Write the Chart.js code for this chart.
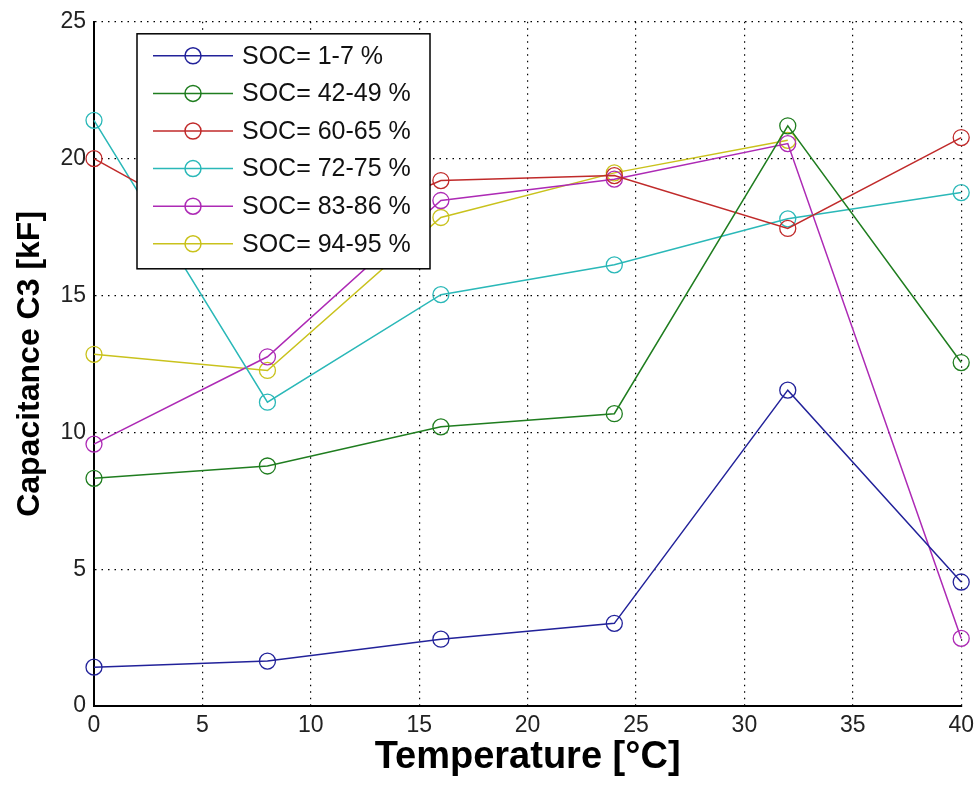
<!DOCTYPE html>
<html>
<head>
<meta charset="utf-8">
<script src="https://cdn.jsdelivr.net/npm/chart.js@4.4.0/dist/chart.umd.min.js"></script>
<style>
  body { margin: 0; background: #fff; }
  #wrap { width: 980px; height: 792px; position: relative; }
</style>
</head>
<body>
<div id="wrap"><canvas id="chart"></canvas></div>
<script>
// data
const temperatures = [0, 8, 16, 24, 32, 40];
const soc1to7   = [1.42, 1.64, 2.44, 3.02, 11.54, 4.53];
const soc42to49 = [8.32, 8.77, 10.2, 10.68, 21.2, 12.55];
const soc60to65 = [20.0, 16.5, 19.2, 19.38, 17.45, 20.77];
const soc72to75 = [21.4, 11.1, 15.03, 16.12, 17.8, 18.76];
const soc83to86 = [9.57, 12.76, 18.47, 19.25, 20.55, 2.47];
const soc94to95 = [12.85, 12.26, 17.85, 19.48, 20.67, null];

const seriesLabels = ['SOC= 1-7 %', 'SOC= 42-49 %', 'SOC= 60-65 %', 'SOC= 72-75 %', 'SOC= 83-86 %', 'SOC= 94-95 %'];
const seriesValues = [soc1to7, soc42to49, soc60to65, soc72to75, soc83to86, soc94to95];
const seriesColors = ['#22229a', '#1f7d1f', '#c02a2a', '#2ab8b8', '#ad2ab5', '#c9c21c'];

const xTickLabels = [0, 5, 10, 15, 20, 25, 30, 35, 40];
const yTickLabels = [0, 5, 10, 15, 20, 25];

const FONT = '"Liberation Sans", Arial, sans-serif';

// matlab style legend box in the upper left of the axes
const boxLegend = {
    id: 'boxLegend',
    afterDatasetsDraw(chart) {
        const ctx = chart.ctx;
        const area = chart.chartArea;
        const x0 = area.left + 43;
        const y0 = area.top + 12;
        const w = 293;
        const h = 235;
        ctx.save();
        ctx.fillStyle = '#fff';
        ctx.fillRect(x0, y0, w, h);
        ctx.strokeStyle = '#000';
        ctx.lineWidth = 1.5;
        ctx.strokeRect(x0, y0, w, h);
        ctx.font = '25px ' + FONT;
        ctx.textBaseline = 'middle';
        chart.data.datasets.forEach((ds, i) => {
            const y = y0 + 22 + i * 37.6;
            ctx.strokeStyle = ds.borderColor;
            ctx.lineWidth = 1.5;
            ctx.beginPath();
            ctx.moveTo(x0 + 16, y);
            ctx.lineTo(x0 + 96, y);
            ctx.stroke();
            ctx.beginPath();
            ctx.arc(x0 + 56, y, 8, 0, Math.PI * 2);
            ctx.stroke();
            ctx.fillStyle = '#111';
            ctx.fillText(ds.label, x0 + 105, y + 1);
        });
        ctx.restore();
    }
};

const ctx = document.getElementById('chart').getContext('2d');
new Chart(ctx, {
    type: 'line',
    data: {
        datasets: seriesValues.map((vals, i) => ({
            label: seriesLabels[i],
            data: temperatures.map((t, j) => ({ x: t, y: vals[j] })),
            borderColor: seriesColors[i],
            backgroundColor: 'transparent',
            borderWidth: 1.5,
            tension: 0,
            pointRadius: 8,
            pointHoverRadius: 8,
            pointBorderWidth: 1.3,
            pointBorderColor: seriesColors[i],
            pointBackgroundColor: 'transparent',
            spanGaps: false,
            fill: false,
            clip: false
        }))
    },
    options: {
        responsive: true,
        maintainAspectRatio: false,
        animation: false,
        layout: {
            padding: { top: 19, right: 15, left: 0, bottom: 0 }
        },
        plugins: {
            legend: { display: false },
            tooltip: { enabled: false }
        },
        scales: {
            x: {
                type: 'linear',
                min: 0,
                max: 40,
                afterBuildTicks: scale => {
                    scale.ticks = xTickLabels.map(v => ({ value: v }));
                },
                afterFit: scale => { scale.height = 86; },
                grid: { color: '#000', lineWidth: 1.2, drawTicks: false, borderDash: [1.5, 5] },
                border: { display: true, color: '#000', width: 2, dash: [1.5, 5] },
                ticks: {
                    color: '#222',
                    padding: 6,
                    maxRotation: 0,
                    font: { family: FONT, size: 23 }
                },
                title: {
                    display: true,
                    text: 'Temperature [°C]',
                    color: '#000',
                    padding: 12,
                    font: { family: FONT, size: 38, weight: 'bold' }
                }
            },
            y: {
                type: 'linear',
                min: 0,
                max: 25,
                afterBuildTicks: scale => {
                    scale.ticks = yTickLabels.map(v => ({ value: v }));
                },
                afterFit: scale => { scale.width = 94; },
                grid: { color: '#000', lineWidth: 1.2, drawTicks: false, borderDash: [1.5, 5] },
                border: { display: true, color: '#000', width: 2, dash: [1.5, 5] },
                ticks: {
                    color: '#222',
                    padding: 8,
                    font: { family: FONT, size: 23 }
                },
                title: {
                    display: true,
                    text: 'Capacitance C3 [kF]',
                    color: '#000',
                    padding: 11,
                    font: { family: FONT, size: 32, weight: 'bold' }
                }
            }
        }
    },
    plugins: [boxLegend]
});
</script>
</body>
</html>
